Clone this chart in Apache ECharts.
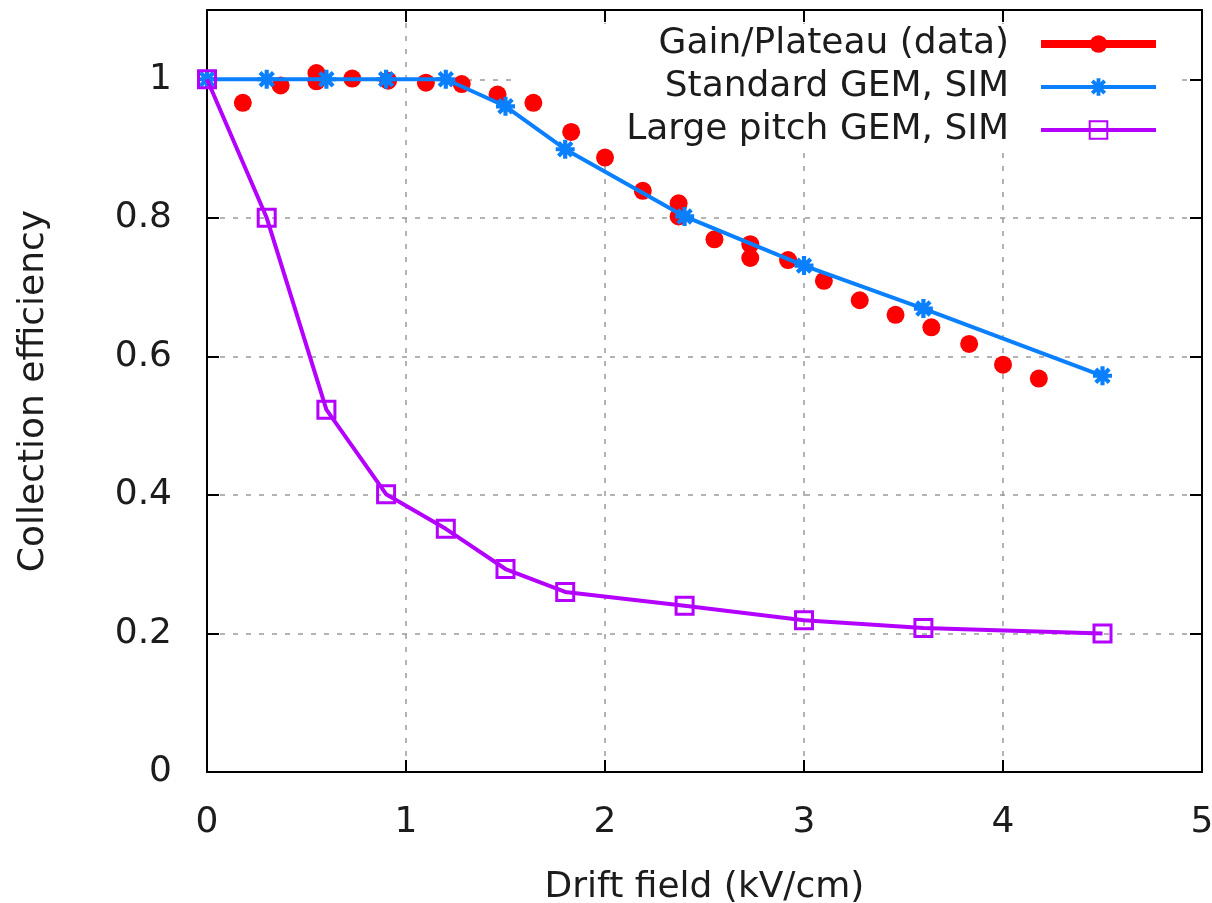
<!DOCTYPE html>
<html>
<head>
<meta charset="utf-8">
<script src="https://cdn.jsdelivr.net/npm/echarts@6/dist/echarts.min.js"></script>
<style>
  html, body { margin: 0; padding: 0; background: #fff; }
  #chart { width: 1212px; height: 903px; }
</style>
</head>
<body>
<div id="chart"></div>
<script>
// Measured gain / plateau ratio
const dataX = [0.18, 0.37, 0.55, 0.55, 0.73, 0.91, 1.10, 1.28, 1.46, 1.64, 1.83, 2.00, 2.19,
               2.37, 2.37, 2.55, 2.73, 2.73, 2.92, 3.10, 3.28, 3.46, 3.64, 3.83, 4.00, 4.18];
const dataY = [0.966, 0.991, 1.009, 0.997, 1.001, 0.998, 0.995, 0.993, 0.978, 0.966, 0.924, 0.887, 0.839,
               0.821, 0.802, 0.769, 0.762, 0.742, 0.739, 0.709, 0.681, 0.660, 0.642, 0.618, 0.588, 0.568];

// Simulated collection efficiency
const simX = [0, 0.3, 0.6, 0.9, 1.2, 1.5, 1.8, 2.4, 3.0, 3.6, 4.5];
const standardY = [1, 1, 1, 1, 1, 0.961, 0.899, 0.802, 0.731, 0.669, 0.572];
const largePitchY = [1, 0.80, 0.523, 0.401, 0.351, 0.293, 0.260, 0.240, 0.219, 0.208, 0.200];

const seriesNames = ['Gain/Plateau (data)', 'Standard GEM, SIM', 'Large pitch GEM, SIM'];
const xTicks = [0, 1, 2, 3, 4, 5];
const yTicks = [0, 0.2, 0.4, 0.6, 0.8, 1];

const zip = (xs, ys) => xs.map((x, i) => [x, ys[i]]);

const FONT = 'DejaVu Sans';
const TEXT = '#1c1c1c';
const RED = '#ff0000';
const BLUE = '#0a80ff';
const VIOLET = '#b400ff';

// eight-armed asterisk marker
const STAR = 'path://M0,7.8H20V12.2H0Z M7.8,0H12.2V20H7.8Z ' +
             'M4.49,1.37L18.63,15.51L15.51,18.63L1.37,4.49Z ' +
             'M15.51,1.37L18.63,4.49L4.49,18.63L1.37,15.51Z';

const gridLine = { show: true, lineStyle: { color: '#9a9a9a', width: 1.5, type: [5, 8] } };
const frameLine = { show: true, onZero: false, lineStyle: { color: '#000', width: 2 } };
const innerTick = { show: true, inside: true, length: 12, lineStyle: { color: '#000', width: 2 } };

const yLabel = v => (yTicks.some(t => Math.abs(t - v) < 1e-6) ? String(+v.toFixed(1)) : '');

const chart = echarts.init(document.getElementById('chart'), null, { renderer: 'canvas' });
chart.setOption({
  animation: false,
  backgroundColor: '#fff',
  textStyle: { fontFamily: FONT, color: TEXT },
  grid: { left: 207, right: 10, top: 10, bottom: 131, show: false, outerBoundsMode: 'none' },
  graphic: [{
    type: 'rect', left: 512, top: 24, z: 1,
    shape: { width: 663, height: 126 },
    style: { fill: '#fff' }
  }],
  xAxis: [{
    type: 'value', min: xTicks[0], max: xTicks[xTicks.length - 1], interval: 1,
    position: 'bottom',
    name: 'Drift field (kV/cm)', nameLocation: 'middle', nameGap: 98,
    nameTextStyle: { fontFamily: FONT, fontSize: 36, color: TEXT },
    axisLine: frameLine, axisTick: innerTick, splitLine: gridLine,
    axisLabel: { margin: 33, fontFamily: FONT, fontSize: 36, color: TEXT }
  }, {
    type: 'value', min: xTicks[0], max: xTicks[xTicks.length - 1], interval: 1,
    position: 'top',
    axisLine: frameLine, axisTick: innerTick, splitLine: { show: false },
    axisLabel: { show: false }
  }],
  yAxis: [{
    type: 'value', min: 0, max: 1.1, interval: 0.2,
    position: 'left',
    name: 'Collection efficiency', nameLocation: 'middle', nameGap: 155,
    nameTextStyle: { fontFamily: FONT, fontSize: 36, color: TEXT },
    axisLine: frameLine, axisTick: innerTick, splitLine: gridLine,
    axisLabel: { margin: 35, fontFamily: FONT, fontSize: 36, color: TEXT, formatter: yLabel }
  }, {
    type: 'value', min: 0, max: 1.1, interval: 0.2,
    position: 'right',
    axisLine: frameLine, axisTick: innerTick, splitLine: { show: false },
    axisLabel: { show: false }
  }],
  legend: {
    orient: 'vertical', right: 47, top: 21, align: 'right',
    itemWidth: 115, itemHeight: 22, itemGap: 7,
    selectedMode: false,
    textStyle: { fontFamily: FONT, fontSize: 36, color: TEXT, padding: [0, 27, 0, 0] },
    data: [
      { name: seriesNames[0], lineStyle: { width: 8, opacity: 1, color: RED } },
      { name: seriesNames[1], lineStyle: { width: 4 } },
      { name: seriesNames[2], lineStyle: { width: 4 } }
    ]
  },
  series: [{
    name: seriesNames[0], type: 'line',
    data: zip(dataX, dataY),
    symbol: 'circle', symbolSize: 18,
    itemStyle: { color: RED },
    lineStyle: { color: RED, width: 0, opacity: 0 },
    z: 2
  }, {
    name: seriesNames[1], type: 'line',
    data: zip(simX, standardY),
    symbol: STAR, symbolSize: 19,
    itemStyle: { color: BLUE },
    lineStyle: { color: BLUE, width: 4 },
    z: 3
  }, {
    name: seriesNames[2], type: 'line',
    data: zip(simX, largePitchY),
    symbol: 'rect', symbolSize: 17,
    itemStyle: { color: 'rgba(255,255,255,0)', borderColor: VIOLET, borderWidth: 3 },
    lineStyle: { color: VIOLET, width: 4 },
    z: 4
  }]
});
</script>
</body>
</html>
